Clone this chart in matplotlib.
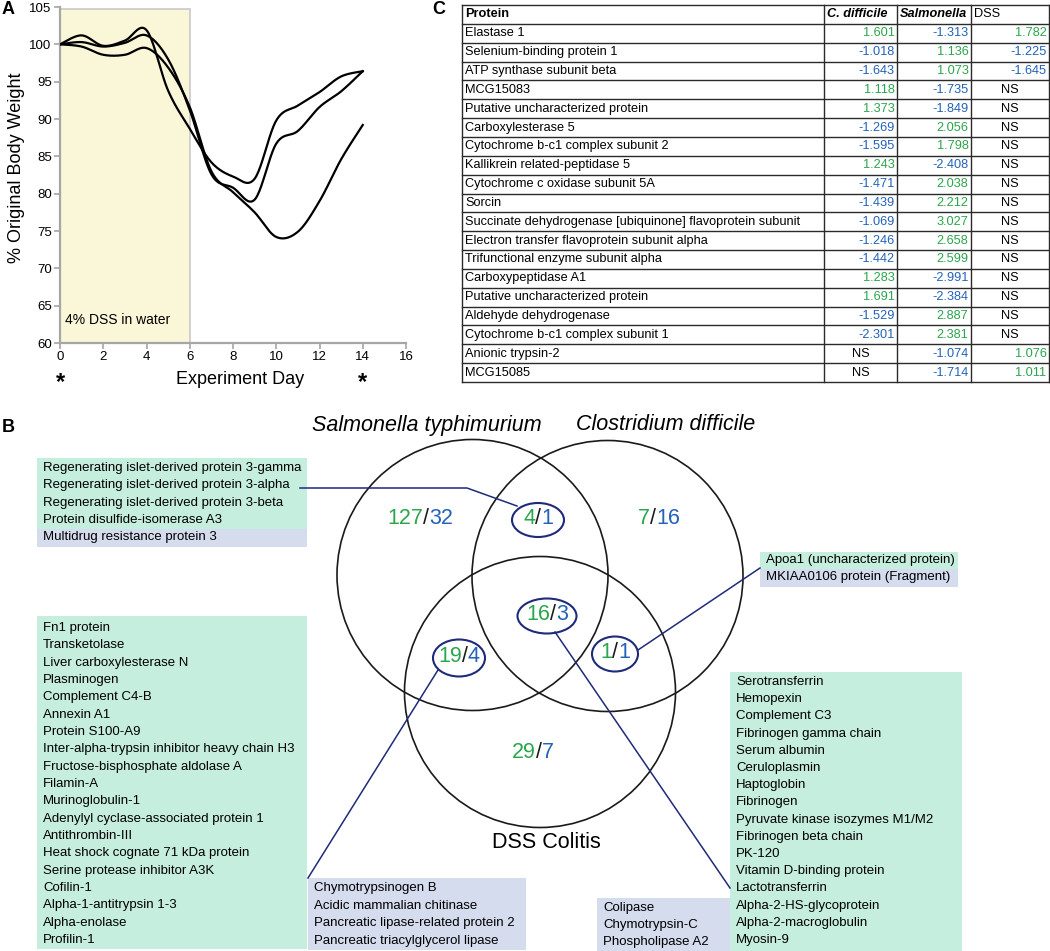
import numpy as np
import matplotlib
matplotlib.use("Agg")
import matplotlib.pyplot as plt
from matplotlib.patches import Rectangle, Circle, Ellipse
import matplotlib.transforms as mtransforms

plt.rcParams['font.family'] = ['Liberation Sans', 'DejaVu Sans']

# ---------------- data ----------------
# Panel A: body weight (% of original) per experiment day, three mice
days = list(range(15))
weight_mouse1 = [100, 101.2, 99.8, 100.5, 101.9, 93.8, 88.7, 84.2, 82.3, 82.0, 89.8, 91.8, 93.6, 95.7, 96.4]
weight_mouse2 = [100, 100.3, 99.7, 100.2, 101.2, 98.0, 91.2, 82.6, 80.8, 79.2, 86.7, 88.4, 91.6, 93.7, 96.4]
weight_mouse3 = [100, 99.7, 98.6, 98.6, 99.5, 96.9, 91.6, 83.0, 80.2, 77.5, 74.2, 74.9, 79.0, 84.6, 89.2]
dss_start, dss_end = 0, 6
y_ticks = [60, 65, 70, 75, 80, 85, 90, 95, 100, 105]
x_ticks = [0, 2, 4, 6, 8, 10, 12, 14, 16]
sample_days = [0, 14]

# Panel C: table
table_header = ["Protein", "C. difficile", "Salmonella", "DSS"]
proteins = ["Elastase 1", "Selenium-binding protein 1", "ATP synthase subunit beta", "MCG15083",
            "Putative uncharacterized protein", "Carboxylesterase 5", "Cytochrome b-c1 complex subunit 2",
            "Kallikrein related-peptidase 5", "Cytochrome c oxidase subunit 5A", "Sorcin",
            "Succinate dehydrogenase [ubiquinone] flavoprotein subunit",
            "Electron transfer flavoprotein subunit alpha", "Trifunctional enzyme subunit alpha",
            "Carboxypeptidase A1", "Putative uncharacterized protein", "Aldehyde dehydrogenase",
            "Cytochrome b-c1 complex subunit 1", "Anionic trypsin-2", "MCG15085"]
cdiff_fc = [1.601, -1.018, -1.643, 1.118, 1.373, -1.269, -1.595, 1.243, -1.471, -1.439, -1.069,
            -1.246, -1.442, 1.283, 1.691, -1.529, -2.301, None, None]
salm_fc = [-1.313, 1.136, 1.073, -1.735, -1.849, 2.056, 1.798, -2.408, 2.038, 2.212, 3.027,
           2.658, 2.599, -2.991, -2.384, 2.887, 2.381, -1.074, -1.714]
dss_fc = [1.782, -1.225, -1.645, None, None, None, None, None, None, None, None, None, None,
          None, None, None, None, 1.076, 1.011]

# Panel B: Venn
venn_titles = ["Salmonella typhimurium", "Clostridium difficile", "DSS Colitis"]
region_names = ["S", "SC", "C", "SCD", "SD", "CD", "D"]
region_up = [127, 4, 7, 16, 19, 1, 29]
region_down = [32, 1, 16, 3, 4, 1, 7]

list_SC_up = ["Regenerating islet-derived protein 3-gamma", "Regenerating islet-derived protein 3-alpha",
              "Regenerating islet-derived protein 3-beta", "Protein disulfide-isomerase A3"]
list_SC_down = ["Multidrug resistance protein 3"]
list_SD_up = ["Fn1 protein", "Transketolase", "Liver carboxylesterase N", "Plasminogen", "Complement C4-B",
              "Annexin A1", "Protein S100-A9", "Inter-alpha-trypsin inhibitor heavy chain H3",
              "Fructose-bisphosphate aldolase A", "Filamin-A", "Murinoglobulin-1",
              "Adenylyl cyclase-associated protein 1", "Antithrombin-III", "Heat shock cognate 71 kDa protein",
              "Serine protease inhibitor A3K", "Cofilin-1", "Alpha-1-antitrypsin 1-3", "Alpha-enolase", "Profilin-1"]
list_SD_down = ["Chymotrypsinogen B", "Acidic mammalian chitinase", "Pancreatic lipase-related protein 2",
                "Pancreatic triacylglycerol lipase"]
list_CD_up = ["Apoa1 (uncharacterized protein)"]
list_CD_down = ["MKIAA0106 protein (Fragment)"]
list_SCD_up = ["Serotransferrin", "Hemopexin", "Complement C3", "Fibrinogen gamma chain", "Serum albumin",
               "Ceruloplasmin", "Haptoglobin", "Fibrinogen", "Pyruvate kinase isozymes M1/M2",
               "Fibrinogen beta chain", "PK-120", "Vitamin D-binding protein", "Lactotransferrin",
               "Alpha-2-HS-glycoprotein", "Alpha-2-macroglobulin", "Myosin-9"]
list_SCD_down = ["Colipase", "Chymotrypsin-C", "Phospholipase A2"]

# ---------------- styles ----------------
W, H = 1050, 951
GREEN_T = '#2aa64c'
BLUE_T = '#2262b8'
GREEN_BG = '#c6eedf'
BLUE_BG = '#d5dcee'
NAVY = '#1f2a78'
GRAY_AX = '#a6a6a6'

fig = plt.figure(figsize=(W / 100, H / 100), dpi=100)


def smooth_curve(x, y, n=24):
    """Excel-like smoothed line (Catmull-Rom / cubic Bezier through points)."""
    P = np.column_stack([np.asarray(x, float), np.asarray(y, float)])
    out = []
    t = np.linspace(0, 1, n)[:, None]
    for i in range(len(P) - 1):
        p0 = P[i - 1] if i > 0 else P[i]
        p1, p2 = P[i], P[i + 1]
        p3 = P[i + 2] if i + 2 < len(P) else P[i + 1]
        c1 = p1 + (p2 - p0) / 6.0
        c2 = p2 - (p3 - p1) / 6.0
        seg = ((1 - t) ** 3) * p1 + 3 * ((1 - t) ** 2) * t * c1 + 3 * (1 - t) * t ** 2 * c2 + t ** 3 * p2
        out.append(seg if i == 0 else seg[1:])
    out = np.vstack(out)
    return out[:, 0], out[:, 1]


# ---------------- Panel A ----------------
axA = fig.add_axes([60 / W, 1 - 343 / H, (406 - 60) / W, (343 - 7) / H])
axA.set_xlim(0, 16)
axA.set_ylim(60, 105)
axA.add_patch(Rectangle((dss_start, 60), dss_end - dss_start, 44.7, facecolor='#faf6d8',
                        edgecolor='#c9c9c9', lw=1.2, zorder=0))
for w in (weight_mouse1, weight_mouse2, weight_mouse3):
    xs, ys = smooth_curve(days, w)
    axA.plot(xs, ys, color='black', lw=1.6, zorder=3)
axA.set_yticks(y_ticks)
axA.set_xticks(x_ticks)
axA.tick_params(axis='both', labelsize=9.5, length=4, width=1.2, color=GRAY_AX, pad=2)
for s in ('top', 'right'):
    axA.spines[s].set_visible(False)
for s in ('left', 'bottom'):
    axA.spines[s].set_color(GRAY_AX)
    axA.spines[s].set_linewidth(1.6)
axA.text(0.25, 62.2, "4% DSS in water", fontsize=10, ha='left', va='bottom')
trans = mtransforms.blended_transform_factory(axA.transData, axA.transAxes)
for d in sample_days:
    axA.text(d, -0.118, "*", transform=trans, ha='center', va='center', fontsize=17,
             fontweight='bold', clip_on=False)

# ---------------- overlay for everything else ----------------
ov = fig.add_axes([0, 0, 1, 1])
ov.set_xlim(0, W)
ov.set_ylim(H, 0)
ov.axis('off')

ov.text(240, 379, "Experiment Day", fontsize=13, ha='center', va='center')
ov.text(17, 168, "% Original Body Weight", fontsize=13, ha='center', va='center', rotation=90)
ov.text(2, 10, "A", fontsize=13, fontweight='bold', ha='left', va='center')
ov.text(2, 428, "B", fontsize=13, fontweight='bold', ha='left', va='center')
ov.text(432, 10, "C", fontsize=13, fontweight='bold', ha='left', va='center')

# ---------------- Panel C table ----------------
col_x = [462, 824, 897, 971, 1049]
row_top, row_h = 5, 18.85
n_rows = len(proteins) + 1
tfs = 9.2
for k in range(n_rows + 1):
    y = row_top + k * row_h
    ov.plot([col_x[0], col_x[-1]], [y, y], color='#2a2a2a', lw=1.0, solid_capstyle='projecting')
for xv in col_x:
    ov.plot([xv, xv], [row_top, row_top + n_rows * row_h], color='#2a2a2a', lw=1.0,
            solid_capstyle='projecting')
hy = row_top + row_h / 2
ov.text(col_x[0] + 3, hy, table_header[0], fontsize=tfs, fontweight='bold', ha='left', va='center')
ov.text(col_x[1] + 3, hy, table_header[1], fontsize=tfs, fontweight='bold', style='italic',
        ha='left', va='center')
ov.text(col_x[2] + 3, hy, table_header[2], fontsize=tfs, fontweight='bold', style='italic',
        ha='left', va='center')
ov.text(col_x[3] + 3, hy, table_header[3], fontsize=tfs, ha='left', va='center')


def put_value(v, ci, y):
    if v is None:
        ov.text((col_x[ci] + col_x[ci + 1]) / 2, y, "NS", fontsize=tfs, ha='center', va='center')
    else:
        ov.text(col_x[ci + 1] - 2.5, y, f"{v:.3f}", fontsize=tfs, ha='right', va='center',
                color=GREEN_T if v > 0 else BLUE_T)


for i, name in enumerate(proteins):
    y = row_top + (i + 1.5) * row_h
    ov.text(col_x[0] + 3, y, name, fontsize=tfs, ha='left', va='center')
    put_value(cdiff_fc[i], 1, y)
    put_value(salm_fc[i], 2, y)
    put_value(dss_fc[i], 3, y)

# ---------------- Panel B Venn ----------------
circles = [(472.5, 575), (607.5, 576), (540, 692)]
radius = 135.5
for (cx, cy) in circles:
    ov.add_patch(Circle((cx, cy), radius, fill=False, edgecolor='#1a1a1a', lw=1.2))

vfs = 15.5
ov.text(427, 425, venn_titles[0], fontsize=vfs, style='italic', ha='center', va='center')
ov.text(666, 425, venn_titles[1], fontsize=vfs, style='italic', ha='center', va='center')
ov.text(546, 843, venn_titles[2], fontsize=vfs, ha='center', va='center')

region_pos = {"S": (420, 518), "SC": (538, 519), "C": (659, 519), "SCD": (547, 615),
              "SD": (459, 657), "CD": (615, 653), "D": (533, 753)}
ellipse_size = {"SC": (52, 34), "SCD": (59, 35), "SD": (52, 37), "CD": (46, 35)}
em = vfs * 100 / 72.0
dw, sw = 0.556 * em, 0.278 * em
for name, up, dn in zip(region_names, region_up, region_down):
    cx, cy = region_pos[name]
    su, sd = str(up), str(dn)
    total = (len(su) + len(sd)) * dw + sw
    xs = cx - total / 2 + len(su) * dw + sw / 2
    ov.text(xs - sw / 2, cy, su, fontsize=vfs, color=GREEN_T, ha='right', va='center')
    ov.text(xs, cy, "/", fontsize=vfs, color='#1a1a1a', ha='center', va='center')
    ov.text(xs + sw / 2, cy, sd, fontsize=vfs, color=BLUE_T, ha='left', va='center')
    if name in ellipse_size:
        ew, eh = ellipse_size[name]
        ov.add_patch(Ellipse((cx, cy + 1), ew, eh, fill=False, edgecolor=NAVY, lw=1.5))

# connector lines
connectors = [[(300, 488), (467, 488), (517, 506)],
              [(438, 670), (308, 878)],
              [(555, 632), (730, 888)],
              [(638, 650), (760, 568)]]
for pts in connectors:
    ov.plot([p[0] for p in pts], [p[1] for p in pts], color=NAVY, lw=1.1)


def draw_box(x0, x1, y_top, y_first, lh, y_bot, up_lines, down_lines, fs=9.5):
    lines = up_lines + down_lines
    split = y_first + (len(up_lines) - 0.5) * lh
    if up_lines:
        ov.add_patch(Rectangle((x0, y_top), x1 - x0, (split if down_lines else y_bot) - y_top,
                               facecolor=GREEN_BG, edgecolor='none', zorder=1))
    if down_lines:
        start = split if up_lines else y_top
        ov.add_patch(Rectangle((x0, start), x1 - x0, y_bot - start,
                               facecolor=BLUE_BG, edgecolor='none', zorder=1))
    for i, t in enumerate(lines):
        ov.text(x0 + 6, y_first + i * lh, t, fontsize=fs, ha='left', va='center', zorder=2)


draw_box(37, 307, 458, 468, 17.3, 547, list_SC_up, list_SC_down)
draw_box(37, 307, 616, 628, 17.33, 949, list_SD_up, [])
draw_box(308, 526, 878, 888, 17.6, 950, [], list_SD_down)
draw_box(760, 958, 552, 560, 17.0, 587, list_CD_up, list_CD_down)
draw_box(730, 962, 672, 682, 17.2, 951, list_SCD_up, [])
draw_box(597, 730, 898, 908, 17.0, 951, [], list_SCD_down)

fig.savefig("out.png", dpi=100)
